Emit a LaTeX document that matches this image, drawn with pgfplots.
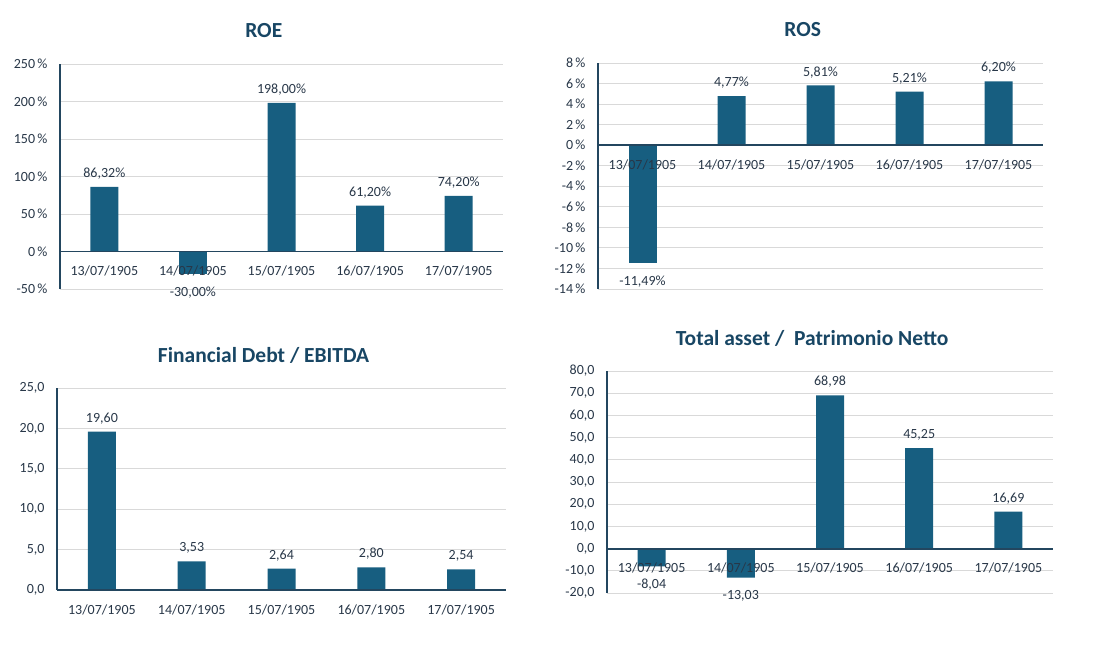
\documentclass[border=0pt]{standalone}
\usepackage{fontspec}
\setmainfont{Carlito}
\usepackage{pgfplots}
\pgfplotsset{compat=1.18}
\definecolor{barc}{RGB}{23,94,128}
\definecolor{titc}{RGB}{24,70,100}
\definecolor{txtc}{RGB}{40,55,72}
\definecolor{spinec}{RGB}{35,70,95}
\definecolor{gridc}{RGB}{217,217,217}
\pgfplotsset{
  layers/mylayers/.define layer set={axis background,axis grid,pre main,main,axis ticks,axis lines,axis tick labels,axis descriptions,axis foreground}{
    grid style={/pgfplots/on layer=axis grid},
    tick style={/pgfplots/on layer=axis ticks},
    axis line style={/pgfplots/on layer=axis lines},
    label style={/pgfplots/on layer=axis descriptions},
    title style={/pgfplots/on layer=axis descriptions},
    ticklabel style={/pgfplots/on layer=axis tick labels},
    axis background@ style={/pgfplots/on layer=axis background},
  },
  mystyle/.style={
    set layers=mylayers,
    scale only axis,
    anchor=south west,
    axis x line=middle,
    axis y line=left,
    axis line style={draw=spinec, line width=1.8pt, -},
    hide obscured x ticks=false,
    hide obscured y ticks=false,
    xmin=-0.5, xmax=4.5,
    xtick={0,1,2,3,4},
    xticklabels={13/07/1905,14/07/1905,15/07/1905,16/07/1905,17/07/1905},
    major tick length=0pt,
    tick style={draw=none},
    ymajorgrids,
    grid style={draw=gridc, line width=0.9pt},
    ybar, bar width=28pt,
    /pgf/number format/assume math mode=true,
    tick label style={font=\fontsize{14}{16}\selectfont, text=txtc},
    xticklabel style={yshift=-11pt},
    yticklabel style={xshift=-9pt},
    title style={font=\fontsize{21.5}{24}\selectfont\bfseries, text=titc, at={(axis description cs:0.46,1)}, anchor=center, yshift=27pt},
    nodes near coords style={font=\fontsize{14}{16}\selectfont, text=txtc, inner sep=7.5pt},
    clip=false,
  },
  posbar/.style={fill=barc, draw=none, bar shift=0pt},
  negbar/.style={fill=barc, draw=none, bar shift=0pt, nodes near coords style={yshift=-5pt}},
}
\begin{document}
\begin{tikzpicture}
% ROE
\begin{axis}[mystyle, at={(60pt,357pt)}, width=443pt, height=225pt,
  title={ROE},
  ymin=-50, ymax=250, ytick={-50,0,50,100,150,200,250},
  yticklabel={\pgfmathprintnumber{\tick}\,\%},
  nodes near coords={\pgfmathprintnumber[fixed,fixed zerofill,precision=2,use comma]{\pgfplotspointmeta}\%}]
\addplot[posbar] coordinates {(0,86.32) (2,198.00) (3,61.20) (4,74.20)};
\addplot[negbar] coordinates {(1,-30.00)};
\end{axis}
% ROS
\begin{axis}[mystyle, at={(598pt,357pt)}, width=445pt, height=226pt,
  title={ROS},
  ymin=-14, ymax=8, ytick={-14,-12,-10,-8,-6,-4,-2,0,2,4,6,8},
  yticklabel={\pgfmathprintnumber{\tick}\,\%},
  nodes near coords={\pgfmathprintnumber[fixed,fixed zerofill,precision=2,use comma]{\pgfplotspointmeta}\%}]
\addplot[posbar] coordinates {(1,4.77) (2,5.81) (3,5.21) (4,6.20)};
\addplot[negbar] coordinates {(0,-11.49)};
\end{axis}
% Financial Debt / EBITDA
\begin{axis}[mystyle, at={(57pt,56pt)}, width=449pt, height=202pt,
  title={Financial Debt / EBITDA},
  ymin=0, ymax=25, ytick={0,5,10,15,20,25},
  yticklabel={\pgfmathprintnumber[fixed,fixed zerofill,precision=1,use comma]{\tick}},
  nodes near coords={\pgfmathprintnumber[fixed,fixed zerofill,precision=2,use comma]{\pgfplotspointmeta}}]
\addplot[posbar] coordinates {(0,19.60) (1,3.53) (2,2.64) (3,2.80) (4,2.54)};
\end{axis}
% Total asset / Patrimonio Netto
\begin{axis}[mystyle, at={(607pt,53pt)}, width=446pt, height=222pt,
  title={Total asset /\ \ Patrimonio Netto},
  ymin=-20, ymax=80, ytick={-20,-10,0,10,20,30,40,50,60,70,80},
  yticklabel={\pgfmathprintnumber[fixed,fixed zerofill,precision=1,use comma]{\tick}},
  nodes near coords={\pgfmathprintnumber[fixed,fixed zerofill,precision=2,use comma]{\pgfplotspointmeta}}]
\addplot[posbar] coordinates {(2,68.98) (3,45.25) (4,16.69)};
\addplot[negbar] coordinates {(0,-8.04) (1,-13.03)};
\end{axis}
\pgfresetboundingbox
\path (0,0) rectangle (1100pt,646pt);
\end{tikzpicture}
\end{document}
